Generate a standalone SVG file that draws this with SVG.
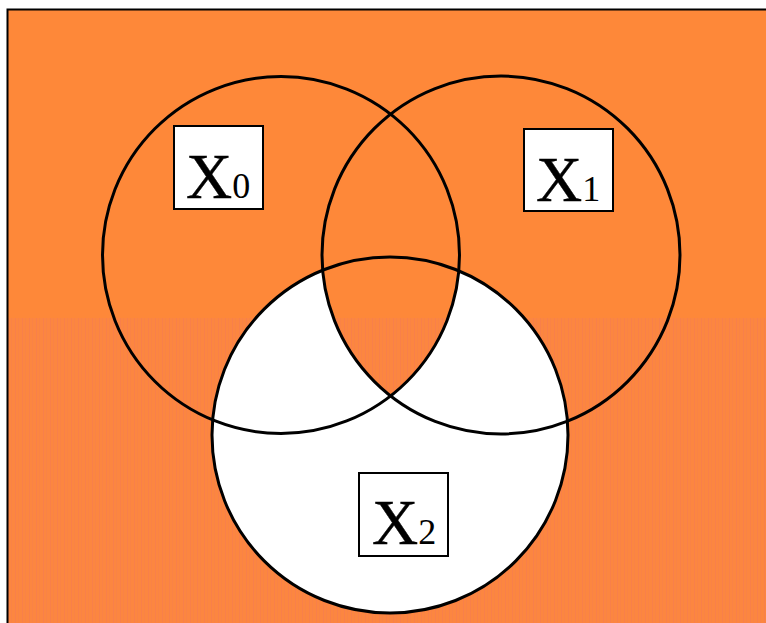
<svg xmlns="http://www.w3.org/2000/svg" xmlns:xlink="http://www.w3.org/1999/xlink" width="766" height="623" viewBox="0 0 766 623">
  <style>
    .outline { fill: none; stroke: #000; stroke-width: 3; }
    .box { fill: #fff; stroke: #000; stroke-width: 2; }
    .lbl { font-family: "Liberation Serif", "Times New Roman", serif; font-size: 64px; fill: #000; stroke: #000; stroke-width: 0.4; }
    .sub { font-size: 36px; stroke: none; }
  </style>
  <defs>
    <pattern id="stripes" patternUnits="userSpaceOnUse" x="0" y="0" width="7" height="4">
      <rect width="7" height="4" fill="#FC8640"/>
      <rect x="1" width="1" height="4" fill="#F8804A"/>
      <rect x="4" width="1" height="4" fill="#F98346"/>
    </pattern>
    <g id="bgLayer">
      <rect x="8" y="10" width="758" height="308" fill="#FE8839"/>
      <rect x="8" y="318" width="758" height="305" fill="url(#stripes)"/>
    </g>
    <clipPath id="clipX0"><circle cx="281" cy="255" r="178.5"/></clipPath>
    <clipPath id="clipX1"><circle cx="501" cy="255" r="179"/></clipPath>
  </defs>

  <rect width="766" height="623" fill="#fff"/>
  <use xlink:href="#bgLayer"/>
  <path d="M7.5 623 V9.5 H766" fill="none" stroke="#000" stroke-width="2"/>

  <!-- region fills: X2 white except the triple intersection -->
  <g id="fills">
    <circle cx="390" cy="435" r="178" fill="#fff"/>
    <g clip-path="url(#clipX1)">
      <g clip-path="url(#clipX0)">
        <use xlink:href="#bgLayer"/>
      </g>
    </g>
  </g>

  <g id="node-X0">
    <circle class="outline" cx="281" cy="255" r="178.5"/>
    <rect class="box" x="174" y="126" width="89" height="83"/>
    <text class="lbl" x="186" y="197.5">X<tspan class="sub">0</tspan></text>
  </g>
  <g id="node-X1">
    <circle class="outline" cx="501" cy="255" r="179"/>
    <rect class="box" x="524" y="129" width="89" height="82"/>
    <text class="lbl" x="536" y="200.5">X<tspan class="sub">1</tspan></text>
  </g>
  <g id="node-X2">
    <circle class="outline" cx="390" cy="435" r="178"/>
    <rect class="box" x="359" y="473" width="89" height="83"/>
    <text class="lbl" x="372" y="543.5">X<tspan class="sub">2</tspan></text>
  </g>
  <g id="connectors"/>
</svg>
